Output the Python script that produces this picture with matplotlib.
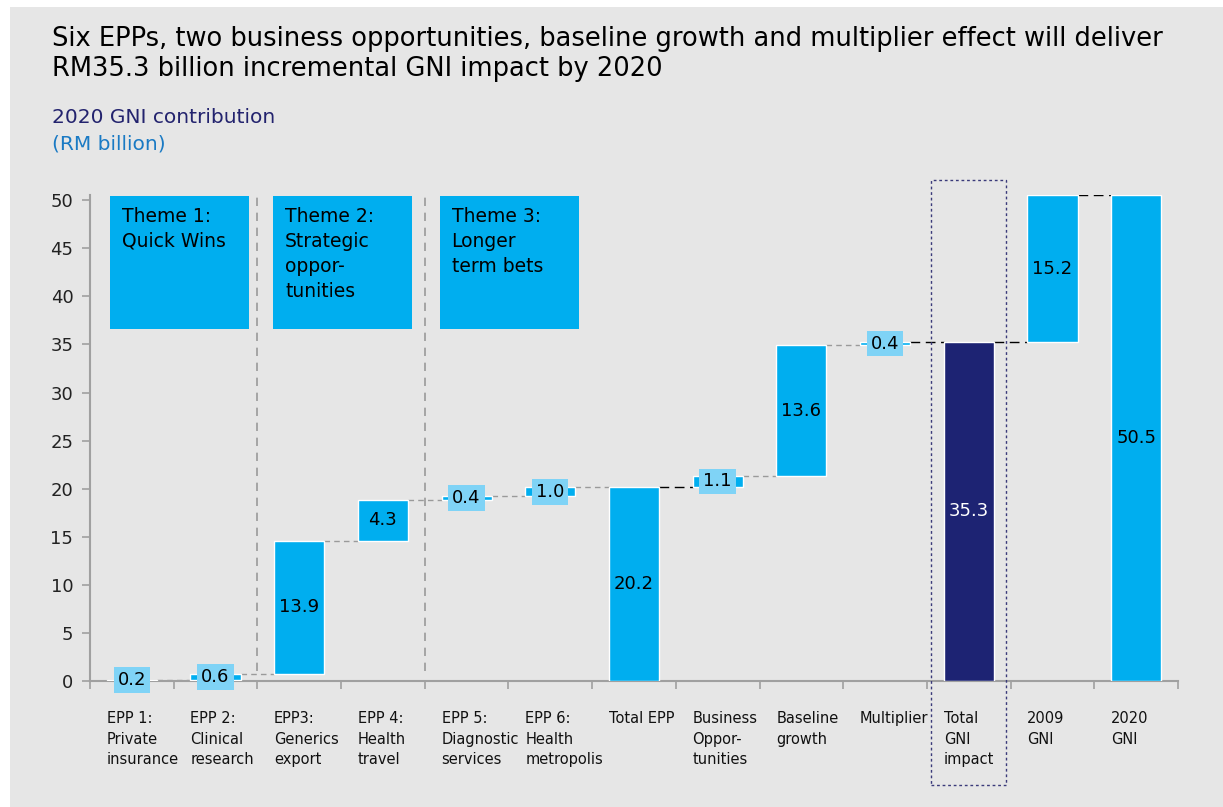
import matplotlib.pyplot as plt
from matplotlib.patches import Rectangle
import matplotlib.transforms as mtransforms
import numpy as np

plt.rcParams['font.family'] = ['DejaVu Sans']

categories = ["EPP 1:\nPrivate\ninsurance", "EPP 2:\nClinical\nresearch", "EPP3:\nGenerics\nexport",
              "EPP 4:\nHealth\ntravel", "EPP 5:\nDiagnostic\nservices", "EPP 6:\nHealth\nmetropolis",
              "Total EPP", "Business\nOppor-\ntunities", "Baseline\ngrowth", "Multiplier",
              "Total\nGNI\nimpact", "2009\nGNI", "2020\nGNI"]
# bar heights (estimated so the steps line up) and the printed labels
values = [0.15, 0.6, 13.85, 4.2, 0.4, 1.0, 20.2, 1.1, 13.6, 0.4, 35.3, 15.2, 50.5]
value_labels = ["0.2", "0.6", "13.9", "4.3", "0.4", "1.0", "20.2", "1.1", "13.6", "0.4", "35.3", "15.2", "50.5"]
is_total = [False, False, False, False, False, False, True, False, False, False, True, False, True]
themes = ["Theme 1:\nQuick Wins", "Theme 2:\nStrategic\noppor-\ntunities", "Theme 3:\nLonger\nterm bets"]

CYAN = "#00aeef"
NAVY = "#1d2373"
LIGHT = "#7fd3f6"

fig = plt.figure(figsize=(12.23, 8.07), dpi=100)
fig.patch.set_facecolor("white")
fig.patches.append(Rectangle((10 / 1223, 0), 1 - 10 / 1223, 1 - 7 / 807, transform=fig.transFigure,
                             facecolor="#e6e6e6", edgecolor="none", zorder=-10))

ax = fig.add_axes([90 / 1223, 1 - 681 / 807, 1088 / 1223, 486.5 / 807])
ax.set_facecolor("none")

x = np.arange(len(categories))
bottoms = []
tops = []
run = 0.0
for i, v in enumerate(values):
    if is_total[i]:
        b = 0.0
        run = v
    else:
        b = run
        run = run + v
    bottoms.append(b)
    tops.append(b + v)

colors = [NAVY if c == "Total\nGNI\nimpact" else CYAN for c in categories]
ax.bar(x, values, bottom=bottoms, width=0.6, color=colors, edgecolor="white", linewidth=1, zorder=3)

# connectors
dark_links = [6, 9, 10, 11]
for i in range(len(x) - 1):
    level = tops[i]
    if i == 10:
        level = bottoms[i + 1]
    col = "black" if i in dark_links else "#9a9a9a"
    dash = (0, (7, 4)) if i in dark_links else (0, (4, 3))
    ax.plot([x[i] + 0.3, x[i + 1] - 0.3], [level, level], color=col, lw=1, linestyle=dash, zorder=2)

# value labels
for i, v in enumerate(values):
    mid = bottoms[i] + v / 2
    tc = "white" if categories[i].startswith("Total\nGNI") else "black"
    if v < 2:
        ax.text(x[i], mid, value_labels[i], ha="center", va="center", fontsize=13, color=tc, zorder=6,
                bbox=dict(boxstyle="square,pad=0.22", facecolor=LIGHT, edgecolor="none"))
    else:
        ax.text(x[i], mid, value_labels[i], ha="center", va="center", fontsize=13, color=tc, zorder=6)

# theme boxes
theme_x = [-0.26, 1.69, 3.68]
for tx, label in zip(theme_x, themes):
    ax.add_patch(Rectangle((tx, 36.6), 1.66, 13.8, facecolor=CYAN, edgecolor="none", zorder=3))
    ax.text(tx + 0.14, 49.3, label, ha="left", va="top", fontsize=13.5, linespacing=1.4, zorder=4)

for sx in [1.5, 3.5]:
    ax.plot([sx, sx], [1.0, 50.8], color="#9a9a9a", lw=1.2, linestyle=(0, (5, 4)), zorder=1)

# dashed frame around Total GNI impact
ax.add_patch(Rectangle((9.55, -10.8), 0.9, 62.9, facecolor="none", edgecolor="#3a3a7a", lw=1,
                       linestyle=(0, (2, 2)), clip_on=False, zorder=5))

ax.set_xlim(-0.5, 12.5)
ax.set_ylim(0, 50.6)
ax.set_yticks(np.arange(0, 51, 5))
ax.set_xticks(np.arange(-0.5, 12.6, 1))
ax.set_xticklabels([])
for s in ["top", "right"]:
    ax.spines[s].set_visible(False)
for s in ["left", "bottom"]:
    ax.spines[s].set_color("#a0a0a0")
    ax.spines[s].set_linewidth(1.5)
ax.tick_params(axis="both", direction="out", length=6, width=1.2, color="#a0a0a0")
ax.tick_params(axis="y", labelsize=13, labelcolor="#222222", pad=6)

trans = mtransforms.blended_transform_factory(ax.transData, ax.transAxes)
for i, c in enumerate(categories):
    ax.text(x[i] - 0.3, -0.062, c, transform=trans, ha="left", va="top", fontsize=10.5,
            linespacing=1.45, color="#111111")

fig.text(52 / 1223, 1 - 26 / 807, "Six EPPs, two business opportunities, baseline growth and multiplier effect will deliver\nRM35.3 billion incremental GNI impact by 2020",
         ha="left", va="top", fontsize=18.5, linespacing=1.2, color="black")
fig.text(52 / 1223, 1 - 108 / 807, "2020 GNI contribution", ha="left", va="top", fontsize=14.5, color="#23236e")
fig.text(52 / 1223, 1 - 134 / 807, "(RM billion)", ha="left", va="top", fontsize=14.5, color="#1a7ac4")

fig.savefig("out.png", dpi=100)
